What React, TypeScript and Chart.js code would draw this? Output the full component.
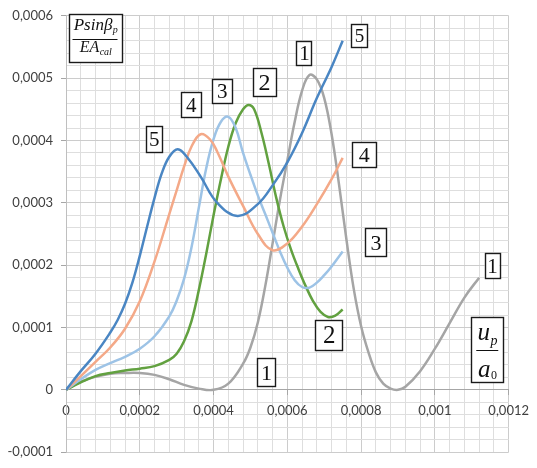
import { useEffect, useRef } from "react";
import { Chart, registerables } from "chart.js";

Chart.register(...registerables);

// All x and y values are in units of 1e-4 (u_p/a_0 and P·sinβp/(E·A_cal)).
const X1 = [0, 0.4, 0.8, 1.2, 1.6, 2.0, 2.4, 2.8, 3.2, 3.6, 4.0, 4.4, 4.8, 5.0, 5.2, 5.4, 5.6, 5.8, 6.0, 6.2, 6.4, 6.6, 6.8, 7.0, 7.2, 7.4, 7.6, 7.8, 8.0, 8.2, 8.4, 8.6, 8.8, 9.0, 9.2, 9.6, 10.0, 10.4, 10.8, 11.2];
const Y1 = [0, 0.13, 0.21, 0.26, 0.27, 0.27, 0.24, 0.17, 0.08, 0.02, 0.0, 0.1, 0.42, 0.68, 1.08, 1.66, 2.35, 3.05, 3.68, 4.3, 4.8, 5.05, 4.98, 4.68, 4.1, 3.3, 2.42, 1.62, 1.02, 0.6, 0.28, 0.1, 0.02, 0.0, 0.05, 0.3, 0.66, 1.07, 1.48, 1.8];

const X2 = [0, 0.4, 0.8, 1.2, 1.6, 2.0, 2.4, 2.8, 3.0, 3.2, 3.4, 3.6, 3.8, 4.0, 4.2, 4.4, 4.6, 4.8, 4.95, 5.1, 5.3, 5.5, 5.7, 5.9, 6.1, 6.3, 6.5, 6.7, 6.9, 7.1, 7.3, 7.5];
const Y2 = [0, 0.12, 0.22, 0.27, 0.31, 0.34, 0.38, 0.48, 0.58, 0.78, 1.1, 1.6, 2.18, 2.8, 3.38, 3.9, 4.28, 4.5, 4.57, 4.5, 4.12, 3.62, 3.08, 2.62, 2.25, 1.94, 1.66, 1.42, 1.25, 1.17, 1.19, 1.29];

const X3 = [0, 0.4, 0.8, 1.2, 1.6, 2.0, 2.4, 2.8, 3.0, 3.2, 3.4, 3.6, 3.8, 4.0, 4.2, 4.4, 4.6, 4.8, 5.0, 5.2, 5.4, 5.6, 5.8, 6.0, 6.2, 6.4, 6.6, 6.8, 7.0, 7.2, 7.5];
const Y3 = [0, 0.17, 0.32, 0.43, 0.53, 0.66, 0.86, 1.18, 1.43, 1.78, 2.28, 2.92, 3.55, 4.02, 4.3, 4.38, 4.2, 3.8, 3.45, 3.12, 2.82, 2.52, 2.22, 1.96, 1.76, 1.65, 1.64, 1.72, 1.84, 1.98, 2.22];

const X4 = [0, 0.4, 0.8, 1.2, 1.6, 2.0, 2.4, 2.8, 3.0, 3.2, 3.4, 3.65, 3.9, 4.1, 4.4, 4.8, 5.2, 5.6, 6.0, 6.4, 6.8, 7.2, 7.5];
const Y4 = [0, 0.22, 0.45, 0.68, 0.98, 1.42, 2.06, 2.82, 3.2, 3.58, 3.9, 4.1, 4.02, 3.82, 3.42, 2.95, 2.5, 2.24, 2.35, 2.62, 2.98, 3.38, 3.72];

const X5 = [0, 0.4, 0.8, 1.2, 1.4, 1.6, 1.8, 2.0, 2.2, 2.4, 2.6, 2.8, 3.03, 3.3, 3.65, 4.1, 4.65, 5.2, 5.6, 6.0, 6.4, 6.8, 7.2, 7.5];
const Y5 = [0, 0.3, 0.58, 0.92, 1.12, 1.38, 1.72, 2.15, 2.62, 3.08, 3.48, 3.74, 3.86, 3.72, 3.42, 3.0, 2.79, 2.98, 3.28, 3.65, 4.12, 4.68, 5.18, 5.6];

const SERIES_X = [X1, X2, X3, X4, X5];
const SERIES_Y = [Y1, Y2, Y3, Y4, Y5];
const SERIES_NAMES = ["1", "2", "3", "4", "5"];
const SERIES_COLORS = ["#a5a5a5", "#62a140", "#9dc3e6", "#f4a988", "#4a86c3"];

const X_MIN = 0;
const X_MAX = 12;
const X_STEP = 0.4;
const X_MAJOR = 2;
const Y_MIN = -1;
const Y_MAX = 6;
const Y_STEP = 0.2;
const Y_MAJOR = 1;
const UNIT = 1e-4;

// Curve number labels, anchored in data coordinates
const LABEL_TEXT = ["5", "1", "2", "3", "4", "5", "4", "3", "2", "1", "1"];
const LABEL_X = [7.94, 6.45, 5.37, 4.22, 3.38, 2.38, 8.07, 8.39, 7.12, 5.42, 11.55];
const LABEL_Y = [5.69, 5.40, 4.94, 4.79, 4.57, 4.02, 3.78, 2.37, 0.88, 0.28, 1.99];
const LABEL_W = [16, 15, 23, 20, 20, 16, 24, 21, 27, 18, 15];
const LABEL_H = [23, 24, 28, 24, 25, 26, 25, 28, 30, 28, 25];
const LABEL_SIZE = [19, 21, 24, 21, 21, 21, 22, 22, 25, 22, 21];

// axis-title boxes (data coordinates of centre)
const YTITLE_POS = [0.8, 5.64];
const XTITLE_POS = [11.42, 0.645];

const isMajor = (v: number, m: number) => Math.abs(v / m - Math.round(v / m)) < 1e-6;
const fmt = (v: number) => {
  const n = parseFloat((v * UNIT).toFixed(6));
  return n.toString().replace(".", ",");
};

const SERIF = '"Liberation Serif", "DejaVu Serif", serif';

const annotationPlugin = {
  id: "annot",
  afterDatasetsDraw(chart: any) {
    const { ctx } = chart;
    const xs = chart.scales.x;
    const ys = chart.scales.y;
    ctx.save();
    for (let i = 0; i < LABEL_TEXT.length; i++) {
      const cx = xs.getPixelForValue(LABEL_X[i]);
      const cy = ys.getPixelForValue(LABEL_Y[i]);
      const w = LABEL_W[i];
      const h = LABEL_H[i];
      ctx.fillStyle = "#ffffff";
      ctx.fillRect(cx - w / 2, cy - h / 2, w, h);
      ctx.strokeStyle = "#1a1a1a";
      ctx.lineWidth = 1.4;
      ctx.strokeRect(Math.round(cx - w / 2) + 0.5, Math.round(cy - h / 2) + 0.5, w, h);
      ctx.fillStyle = "#111";
      ctx.font = `${LABEL_SIZE[i]}px ${SERIF}`;
      ctx.textAlign = "center";
      ctx.textBaseline = "alphabetic";
      ctx.fillText(LABEL_TEXT[i], cx + 0.5, cy + LABEL_SIZE[i] * 0.34);
    }

    const drawBox = (cx: number, cy: number, w: number, h: number) => {
      ctx.fillStyle = "#ffffff";
      ctx.fillRect(cx - w / 2, cy - h / 2, w, h);
      ctx.strokeStyle = "#1a1a1a";
      ctx.lineWidth = 1.4;
      ctx.strokeRect(Math.round(cx - w / 2) + 0.5, Math.round(cy - h / 2) + 0.5, w, h);
    };
    const drawWithSub = (main: string, mainFont: string, sub: string, subFont: string, cx: number, base: number, subDy: number) => {
      ctx.font = mainFont;
      const mw = ctx.measureText(main).width;
      ctx.font = subFont;
      const sw = ctx.measureText(sub).width;
      const x0 = cx - (mw + sw) / 2;
      ctx.textAlign = "left";
      ctx.textBaseline = "alphabetic";
      ctx.fillStyle = "#111";
      ctx.font = mainFont;
      ctx.fillText(main, x0, base);
      ctx.font = subFont;
      ctx.fillText(sub, x0 + mw + 0.5, base + subDy);
    };

    {
      const cx = xs.getPixelForValue(YTITLE_POS[0]);
      const cy = ys.getPixelForValue(YTITLE_POS[1]);
      drawBox(cx, cy, 53, 48);
      drawWithSub("Psinβ", `italic 17px ${SERIF}`, "p", `italic 10px ${SERIF}`, cx, cy - 8, 3);
      ctx.strokeStyle = "#111";
      ctx.lineWidth = 1;
      ctx.beginPath();
      ctx.moveTo(cx - 23, Math.round(cy + 1) + 0.5);
      ctx.lineTo(cx + 22, Math.round(cy + 1) + 0.5);
      ctx.stroke();
      drawWithSub("EA", `italic 16px ${SERIF}`, "cal", `italic 10px ${SERIF}`, cx, cy + 14, 2.5);
    }
    {
      const cx = xs.getPixelForValue(XTITLE_POS[0]);
      const cy = ys.getPixelForValue(XTITLE_POS[1]);
      drawBox(cx, cy, 32, 65);
      drawWithSub("u", `italic 25px ${SERIF}`, "p", `italic 14px ${SERIF}`, cx, cy - 10, 5);
      ctx.strokeStyle = "#111";
      ctx.lineWidth = 1;
      ctx.beginPath();
      ctx.moveTo(cx - 11, Math.round(cy) + 0.5);
      ctx.lineTo(cx + 11, Math.round(cy) + 0.5);
      ctx.stroke();
      drawWithSub("a", `italic 25px ${SERIF}`, "0", `12px ${SERIF}`, cx, cy + 27, 2);
    }
    ctx.restore();
  },
};

export default function App() {
  const ref = useRef<HTMLCanvasElement>(null);
  useEffect(() => {
    const canvas = ref.current!;
    const datasets = SERIES_X.map((xs, i) => ({
      label: SERIES_NAMES[i],
      data: xs.map((x, j) => ({ x, y: SERIES_Y[i][j] })),
      borderColor: SERIES_COLORS[i],
      backgroundColor: SERIES_COLORS[i],
      borderWidth: 2.5,
      pointRadius: 0,
      fill: false,
      tension: 0.4,
      order: 5 - i,
    }));
    const tickFont = { family: "Lato, 'Open Sans', sans-serif", size: 13 };
    const chart = new Chart(canvas, {
      type: "line",
      data: { datasets },
      plugins: [annotationPlugin],
      options: {
        animation: false,
        responsive: false,
        devicePixelRatio: 1,
        layout: { padding: { left: 0, right: 20, top: 10, bottom: 11 } },
        plugins: { legend: { display: false }, tooltip: { enabled: false } },
        scales: {
          x: {
            type: "linear",
            min: X_MIN,
            max: X_MAX,
            position: { y: 0 },
            ticks: {
              stepSize: X_STEP,
              autoSkip: false,
              maxRotation: 0,
              padding: 8,
              color: "#404040",
              font: tickFont,
              callback: (v: any) => (isMajor(Number(v), X_MAJOR) ? fmt(Number(v)) : ""),
            },
            grid: {
              color: (c: any) => (isMajor(c.tick?.value ?? 0, X_MAJOR) ? "#cccccc" : "#dedede"),
              tickColor: (c: any) => (isMajor(c.tick?.value ?? 0, X_MAJOR) ? "#a6a6a6" : "rgba(0,0,0,0)"),
              tickLength: 5,
              lineWidth: 1,
            },
            border: { color: "#a6a6a6", width: 1 },
          },
          y: {
            type: "linear",
            min: Y_MIN,
            max: Y_MAX,
            ticks: {
              stepSize: Y_STEP,
              autoSkip: false,
              padding: 8,
              color: "#404040",
              font: tickFont,
              callback: (v: any) => (isMajor(Number(v), Y_MAJOR) ? fmt(Number(v)) : ""),
            },
            grid: {
              color: (c: any) => (isMajor(c.tick?.value ?? 0, Y_MAJOR) ? "#cccccc" : "#dedede"),
              tickColor: (c: any) => (isMajor(c.tick?.value ?? 0, Y_MAJOR) ? "#a6a6a6" : "rgba(0,0,0,0)"),
              tickLength: 5,
              lineWidth: 1,
            },
            border: { color: "#bfbfbf", width: 1 },
            afterFit: (s: any) => {
              s.width = 66;
            },
          },
        },
      },
    } as any);
    return () => chart.destroy();
  }, []);
  return (
    <div style={{ position: "fixed", left: 0, top: 0, width: 537, height: 468, background: "#ffffff" }}>
      <canvas ref={ref} width={537} height={468} style={{ width: 537, height: 468, display: "block" }} />
    </div>
  );
}
